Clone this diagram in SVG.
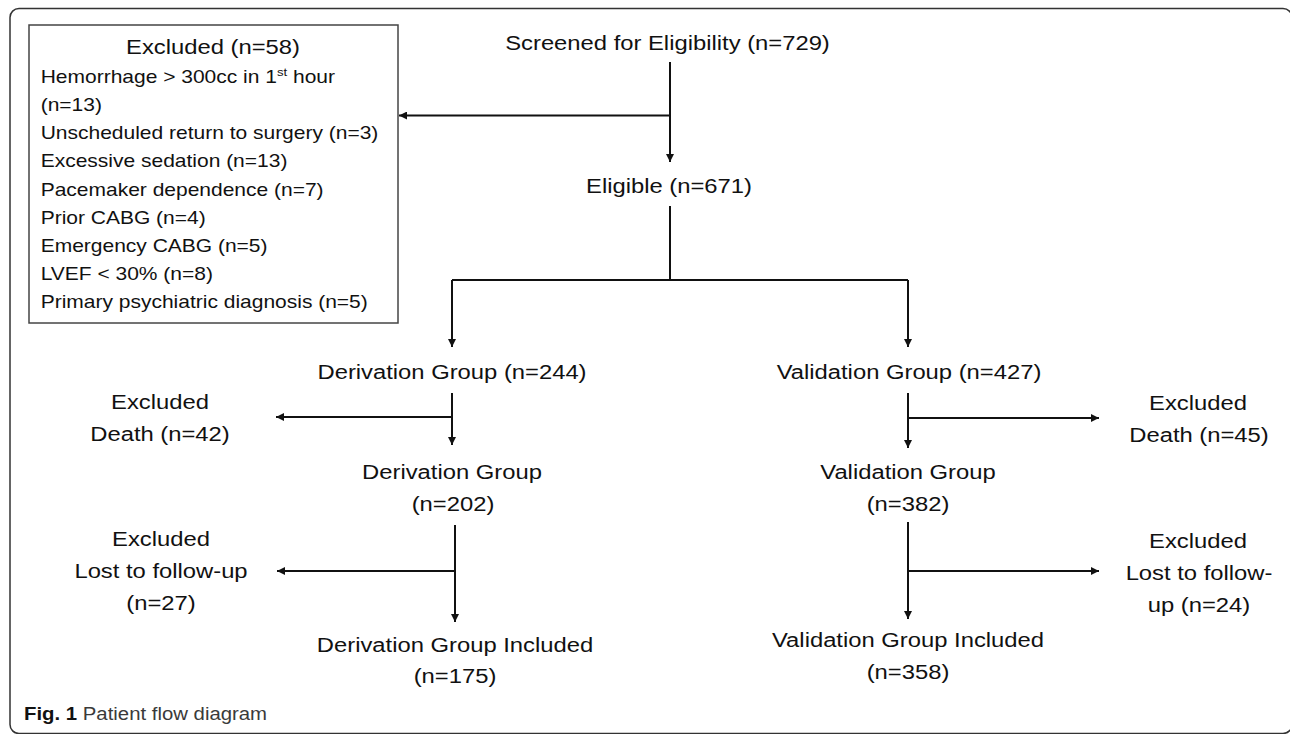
<svg xmlns="http://www.w3.org/2000/svg" width="1290" height="734" viewBox="0 0 1290 734">
<defs>
<style>
.t{font-family:"Liberation Sans",Arial,sans-serif;font-size:20px;fill:#111;text-anchor:middle}
.b{font-family:"Liberation Sans",Arial,sans-serif;font-size:17.5px;fill:#111;text-anchor:start}
.c{fill:none;stroke:#111;stroke-width:2}
.a{fill:none;stroke:#111;stroke-width:2;marker-end:url(#ah)}
.frame{fill:none;stroke:#333;stroke-width:1.5}
.box{fill:#fff;stroke:#444;stroke-width:1.5}
.cap{font-family:"Liberation Sans",Arial,sans-serif;font-size:18.5px;fill:#3a3a3a}
</style>
<marker id="ah" markerUnits="userSpaceOnUse" markerWidth="9" markerHeight="8" refX="8" refY="4" orient="auto">
<path d="M0,0 L8,4 L0,8 z" fill="#111"/>
</marker>
</defs>
<rect width="1290" height="734" fill="#fff"/>
<rect class="frame" x="10" y="8.5" width="1282" height="725" rx="9"/>

<g id="connectors">
<path class="a" d="M670,62 V162"/>
<path class="a" d="M670,115.5 H399"/>
<path class="c" d="M670,206 V280"/>
<path class="c" d="M452,280 H908"/>
<path class="a" d="M452,280 V347"/>
<path class="a" d="M908,280 V347"/>
<path class="a" d="M452,393 V445"/>
<path class="a" d="M452,417 H276"/>
<path class="a" d="M455,525 V622"/>
<path class="a" d="M455,571 H277"/>
<path class="a" d="M908,393 V448"/>
<path class="a" d="M908,418 H1099"/>
<path class="a" d="M908,522 V619"/>
<path class="a" d="M908,571 H1099"/>
</g>

<g id="excluded-box">
<rect class="box" x="29" y="25" width="369" height="298"/>
<text class="t" transform="translate(213 54) scale(1.19 1)">Excluded (n=58)</text>
<text class="b" transform="translate(40.7 83) scale(1.2 1)">Hemorrhage &gt; 300cc in 1<tspan font-size="11" dy="-7">st</tspan><tspan dy="7"> hour</tspan></text>
<text class="b" transform="translate(40.7 111) scale(1.2 1)">(n=13)</text>
<text class="b" transform="translate(40.7 139) scale(1.2 1)">Unscheduled return to surgery (n=3)</text>
<text class="b" transform="translate(40.7 167) scale(1.2 1)">Excessive sedation (n=13)</text>
<text class="b" transform="translate(40.7 196) scale(1.2 1)">Pacemaker dependence (n=7)</text>
<text class="b" transform="translate(40.7 224) scale(1.2 1)">Prior CABG (n=4)</text>
<text class="b" transform="translate(40.7 252) scale(1.2 1)">Emergency CABG (n=5)</text>
<text class="b" transform="translate(40.7 280) scale(1.2 1)">LVEF &lt; 30% (n=8)</text>
<text class="b" transform="translate(40.7 308) scale(1.2 1)">Primary psychiatric diagnosis (n=5)</text>
</g>

<g id="screened">
<text class="t" transform="translate(667.5 50) scale(1.19 1)">Screened for Eligibility (n=729)</text>
</g>
<g id="eligible">
<text class="t" transform="translate(669 193) scale(1.19 1)">Eligible (n=671)</text>
</g>
<g id="derivation-244">
<text class="t" transform="translate(452 379) scale(1.19 1)">Derivation Group (n=244)</text>
</g>
<g id="validation-427">
<text class="t" transform="translate(909 379) scale(1.19 1)">Validation Group (n=427)</text>
</g>
<g id="excluded-death-42">
<text class="t" transform="translate(160 409) scale(1.19 1)">Excluded</text>
<text class="t" transform="translate(160 441) scale(1.19 1)">Death (n=42)</text>
</g>
<g id="derivation-202">
<text class="t" transform="translate(452 479) scale(1.19 1)">Derivation Group</text>
<text class="t" transform="translate(453 511) scale(1.19 1)">(n=202)</text>
</g>
<g id="excluded-lost-27">
<text class="t" transform="translate(161 546) scale(1.19 1)">Excluded</text>
<text class="t" transform="translate(161 578) scale(1.19 1)">Lost to follow-up</text>
<text class="t" transform="translate(161 610) scale(1.19 1)">(n=27)</text>
</g>
<g id="derivation-included">
<text class="t" transform="translate(455 652) scale(1.19 1)">Derivation Group Included</text>
<text class="t" transform="translate(455 683) scale(1.19 1)">(n=175)</text>
</g>
<g id="excluded-death-45">
<text class="t" transform="translate(1198 410) scale(1.19 1)">Excluded</text>
<text class="t" transform="translate(1199 442) scale(1.19 1)">Death (n=45)</text>
</g>
<g id="validation-382">
<text class="t" transform="translate(908 479) scale(1.19 1)">Validation Group</text>
<text class="t" transform="translate(908 511) scale(1.19 1)">(n=382)</text>
</g>
<g id="excluded-lost-24">
<text class="t" transform="translate(1198 548) scale(1.19 1)">Excluded</text>
<text class="t" transform="translate(1199 580) scale(1.19 1)">Lost to follow-</text>
<text class="t" transform="translate(1199 612) scale(1.19 1)">up (n=24)</text>
</g>
<g id="validation-included">
<text class="t" transform="translate(908 647) scale(1.19 1)">Validation Group Included</text>
<text class="t" transform="translate(908 679) scale(1.19 1)">(n=358)</text>
</g>

<g id="caption">
<text class="cap" transform="translate(24 720) scale(1.1 1)"><tspan font-weight="bold" fill="#111">Fig. 1</tspan> Patient flow diagram</text>
</g>
</svg>
